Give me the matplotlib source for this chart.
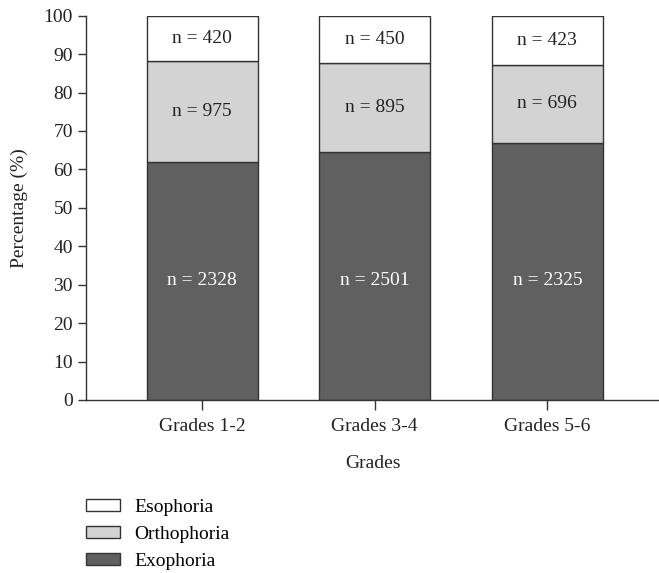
import matplotlib
matplotlib.use("Agg")
import matplotlib.pyplot as plt
import numpy as np

plt.rcParams['font.family'] = ['Liberation Serif', 'DejaVu Serif']

grades = ["Grades 1-2", "Grades 3-4", "Grades 5-6"]
series = ["Exophoria", "Orthophoria", "Esophoria"]
exo_pct = [62.0, 64.6, 67.0]
ortho_pct = [26.2, 23.2, 20.1]
eso_pct = [11.8, 12.2, 12.9]
exo_n = [2328, 2501, 2325]
ortho_n = [975, 895, 696]
eso_n = [420, 450, 423]
colors = {"Exophoria": "#606060", "Orthophoria": "#d3d3d3", "Esophoria": "#ffffff"}

fig = plt.figure(figsize=(6.59, 5.73), dpi=100)
ax = fig.add_axes([86/659, 1 - 400/573, 1 - 86/659, (400 - 15.7)/573])

x = np.arange(len(grades))
w = 0.643
edge = "#333333"
exo = np.array(exo_pct)
ortho = np.array(ortho_pct)
eso = np.array(eso_pct)
b1 = ax.bar(x, exo, w, color=colors["Exophoria"], edgecolor=edge, linewidth=1, label="Exophoria")
b2 = ax.bar(x, ortho, w, bottom=exo, color=colors["Orthophoria"], edgecolor=edge, linewidth=1, label="Orthophoria")
b3 = ax.bar(x, eso, w, bottom=exo + ortho, color=colors["Esophoria"], edgecolor=edge, linewidth=1, label="Esophoria")

fs = 14
exo_label_y = exo.min() / 2
for i in range(len(grades)):
    ax.text(x[i], exo_label_y, f"n = {exo_n[i]}", ha='center', va='center', color='white', fontsize=fs)
    ax.text(x[i], exo[i] + ortho[i] / 2, f"n = {ortho_n[i]}", ha='center', va='center', color='#222222', fontsize=fs)
    ax.text(x[i], exo[i] + ortho[i] + eso[i] / 2, f"n = {eso_n[i]}", ha='center', va='center', color='#222222', fontsize=fs)

ax.set_xlim(-0.673, 2.647)
ax.set_ylim(0, 100)
ax.set_yticks(np.arange(0, 101, 10))
ax.set_xticks(x)
ax.set_xticklabels(grades)
for s in ['top', 'right']:
    ax.spines[s].set_visible(False)
for s in ['left', 'bottom']:
    ax.spines[s].set_color('#333333')
    ax.spines[s].set_linewidth(1)
ax.tick_params(axis='both', colors='#333333', labelcolor='#222222', labelsize=fs, length=6, width=1)
ax.tick_params(axis='x', pad=6, length=7)
ax.set_ylabel("Percentage (%)", fontsize=fs, color='#222222', labelpad=11)
ax.set_xlabel("Grades", fontsize=fs, color='#222222', labelpad=14)

handles = [b3, b2, b1]
fig.legend(handles, ["Esophoria", "Orthophoria", "Exophoria"], loc='upper left',
           bbox_to_anchor=(86/659, 1 - 499/573), frameon=False, fontsize=fs,
           handlelength=1.75, handleheight=0.55, labelspacing=0.52, handletextpad=0.75,
           borderpad=0, borderaxespad=0)

fig.savefig("out.png", dpi=100)
